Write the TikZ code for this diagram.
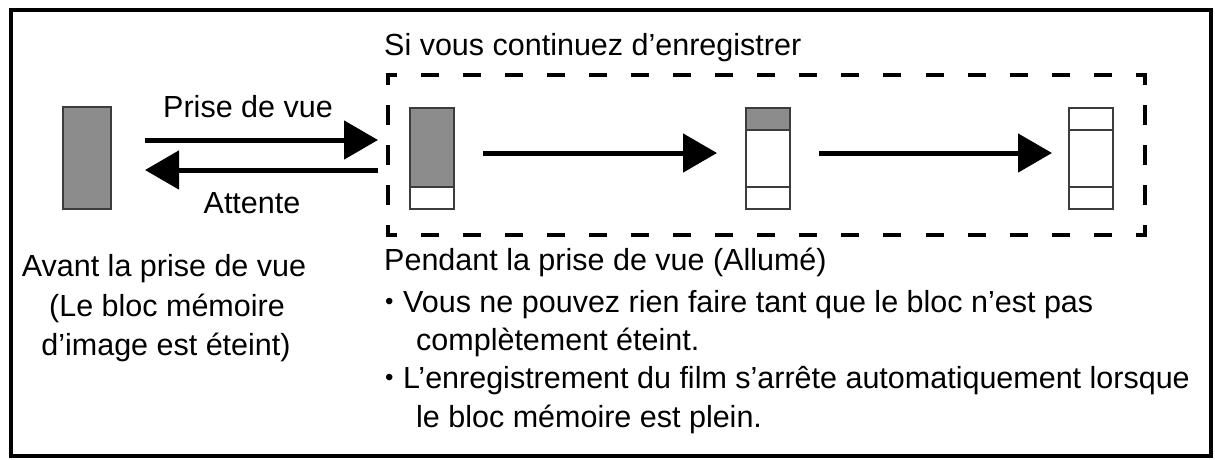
\documentclass[tikz,border=0pt]{standalone}
\usepackage{fontspec}
\setmainfont{Liberation Sans}
\usetikzlibrary{arrows.meta}
\definecolor{memgray}{RGB}{140,140,140}
\definecolor{blkline}{RGB}{60,60,60}
\newcommand{\smallbul}{\makebox[18pt][l]{\raisebox{2.5pt}{\fontsize{24pt}{24pt}\selectfont •}}}
\begin{document}
\begin{tikzpicture}[x=1pt,y=-1pt,
  txt/.style={inner sep=0pt, font=\fontsize{30.5pt}{36pt}\selectfont, text=black},
  blkbase/.style={draw=blkline, line width=1.8pt, inner sep=0pt, minimum width=44pt, minimum height=101pt, fill=white},
  memfull/.style={blkbase, minimum width=48pt, minimum height=102pt, fill=memgray},
  memone/.style={blkbase, path picture={
      \fill[memgray] (path picture bounding box.north west) rectangle ([yshift=22pt]path picture bounding box.south east);
      \draw[blkline, line width=1.8pt] ([yshift=22pt]path picture bounding box.south west) -- ([yshift=22pt]path picture bounding box.south east);}},
  memtwo/.style={blkbase, path picture={
      \fill[memgray] (path picture bounding box.north west) rectangle ([yshift=-22pt]path picture bounding box.north east);
      \draw[blkline, line width=1.8pt] ([yshift=-22pt]path picture bounding box.north west) -- ([yshift=-22pt]path picture bounding box.north east);
      \draw[blkline, line width=1.8pt] ([yshift=22pt]path picture bounding box.south west) -- ([yshift=22pt]path picture bounding box.south east);}},
  memthree/.style={blkbase, path picture={
      \draw[blkline, line width=1.8pt] ([yshift=-22pt]path picture bounding box.north west) -- ([yshift=-22pt]path picture bounding box.north east);
      \draw[blkline, line width=1.8pt] ([yshift=22pt]path picture bounding box.south west) -- ([yshift=22pt]path picture bounding box.south east);}},
  bigarrow/.style={line width=5pt, -{Triangle[length=34pt,width=38pt]}},
  dashtop/.style={line width=4pt, line cap=rect, dash pattern=on 14pt off 28.056pt, dash phase=7pt},
  dashside/.style={line width=4pt, line cap=rect, dash pattern=on 16pt off 24pt, dash phase=8pt},
  frame/.style={line width=4pt}
]
\useasboundingbox (0,0) rectangle (1215,459);
\fill[white] (0,0) rectangle (1215,459);
\draw[frame] (10.5,9.5) rectangle (1210.5,455.5);

% dashed region
\node[inner sep=0pt, minimum width=757pt, minimum height=160pt] (rec) at (766.5,155) {};
\draw[dashtop] (rec.north west) -- (rec.north east);
\draw[dashtop] (rec.south west) -- (rec.south east);
\draw[dashside] (rec.north west) -- (rec.south west);
\draw[dashside] (rec.north east) -- (rec.south east);

% memory blocks
\node[memfull] (b0) at (87,158) {};
\node[memone] (b1) at (432,158.5) {};
\node[memtwo] (b2) at (768,158.5) {};
\node[memthree] (b3) at (1091,158.5) {};

% arrow end points
\coordinate (ps) at (145,140);
\coordinate (pe) at (378,140);
\coordinate (as) at (378,170);
\coordinate (ae) at (145,170);
\coordinate (r1s) at (483,153);
\coordinate (r1e) at (717,153);
\coordinate (r2s) at (819,153);
\coordinate (r2e) at (1052,153);

\draw[bigarrow] (ps) -- (pe);
\draw[bigarrow] (as) -- (ae);
\draw[bigarrow] (r1s) -- (r1e);
\draw[bigarrow] (r2s) -- (r2e);

% texts
\node[txt, anchor=base west] (tsi) at (384,55) {Si vous continuez d’enregistrer};
\node[txt, anchor=base] (tpv) at (248,117) {Prise de vue};
\node[txt, anchor=base] (tat) at (252,213) {Attente};
\node[txt, anchor=base] (tav1) at (164,276) {Avant la prise de vue};
\node[txt, anchor=base] (tav2) at (167,316) {(Le bloc mémoire};
\node[txt, anchor=base] (tav3) at (166,355) {d’image est éteint)};
\node[txt, anchor=base west] (tpd) at (384,270) {Pendant la prise de vue (Allumé)};
\node[txt, anchor=base west] (tl1) at (385,312) {\smallbul Vous ne pouvez rien faire tant que le bloc n’est pas};
\node[txt, anchor=base west] (tl2) at (416,350) {complètement éteint.};
\node[txt, anchor=base west] (tl3) at (385,388) {\smallbul L’enregistrement du film s’arrête automatiquement lorsque};
\node[txt, anchor=base west] (tl4) at (416,427) {le bloc mémoire est plein.};
\end{tikzpicture}
\end{document}
